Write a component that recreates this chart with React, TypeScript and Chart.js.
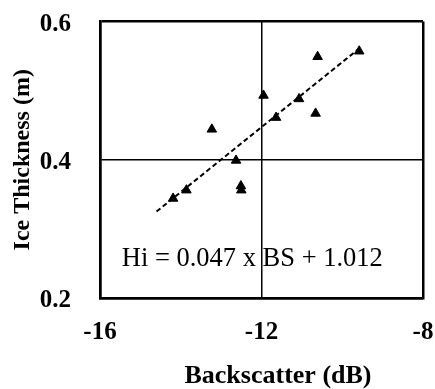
import React, { useEffect, useRef } from "react";
import { Chart, registerables } from "chart.js";

Chart.register(...registerables);

const backscatter = [-9.58, -10.61, -11.95, -11.07, -10.66, -11.64, -13.23, -12.63, -12.51, -12.5, -14.19, -13.86];
const thickness = [0.557, 0.549, 0.493, 0.488, 0.467, 0.461, 0.444, 0.399, 0.362, 0.356, 0.344, 0.356];
const trendX = [-14.6, -9.6];
const trendY = [0.325, 0.56];
const xTicks = [-16, -12, -8];
const yTicks = [0.2, 0.4, 0.6];
const equationText = "Hi = 0.047 x BS + 1.012";
const xTitle = "Backscatter (dB)";
const yTitle = "Ice Thickness (m)";

const SERIF = '"Liberation Serif", "Times New Roman", serif';

const overlayPlugin = {
  id: "overlayText",
  afterDraw(chart: any) {
    const { ctx, scales } = chart;
    const x = scales.x;
    const y = scales.y;
    ctx.save();
    ctx.fillStyle = "#000";
    ctx.font = `26.5px ${SERIF}`;
    ctx.textAlign = "left";
    ctx.textBaseline = "alphabetic";
    ctx.fillText(equationText, x.getPixelForValue(-15.46), y.getPixelForValue(0.246));
    ctx.font = `bold 26px ${SERIF}`;
    ctx.textAlign = "center";
    ctx.textBaseline = "middle";
    ctx.fillText(xTitle, 278, 376);
    ctx.restore();
  },
};

const zeroPad = (s: any) => {
  s.paddingTop = 0;
  s.paddingBottom = 0;
  s.paddingLeft = 0;
  s.paddingRight = 0;
};

export default function App() {
  const ref = useRef<HTMLCanvasElement | null>(null);
  useEffect(() => {
    if (!ref.current) return;
    const chart = new Chart(ref.current, {
      type: "scatter",
      data: {
        datasets: [
          {
            type: "line",
            data: trendX.map((v, i) => ({ x: v, y: trendY[i] })),
            borderColor: "#000",
            borderWidth: 2,
            borderDash: [5, 3],
            pointRadius: 0,
            fill: false,
          },
          {
            data: backscatter.map((v, i) => ({ x: v, y: thickness[i] })),
            pointStyle: "triangle",
            pointRadius: 5.5,
            backgroundColor: "#000",
            borderColor: "#000",
            borderWidth: 1,
          },
        ],
      },
      options: {
        animation: false,
        responsive: true,
        maintainAspectRatio: false,
        layout: { padding: { top: 21.5, right: 12, left: 0, bottom: 0 } },
        plugins: { legend: { display: false }, tooltip: { enabled: false } },
        scales: {
          x: {
            type: "linear",
            min: -16,
            max: -8,
            afterFit: (s: any) => { s.height = 91; zeroPad(s); },
            afterBuildTicks: (s: any) => { s.ticks = xTicks.map((v) => ({ value: v })); },
            ticks: {
              font: { family: SERIF, size: 25, weight: "bold" },
              color: "#000",
              padding: 20,
              maxRotation: 0,
            },
            grid: {
              color: "#000",
              lineWidth: (c: any) => (c.index === 1 ? 1.5 : 2.5),
              drawTicks: false,
            },
            border: { color: "#000", width: 2.5 },
            title: { display: false },
          },
          y: {
            type: "linear",
            min: 0.2,
            max: 0.6,
            afterFit: (s: any) => { s.width = 100; zeroPad(s); },
            afterBuildTicks: (s: any) => { s.ticks = yTicks.map((v) => ({ value: v })); },
            ticks: {
              font: { family: SERIF, size: 25, weight: "bold" },
              color: "#000",
              padding: 29,
              labelOffset: 3,
              callback: (v: any) => Number(v).toFixed(1),
            },
            grid: {
              color: "#000",
              lineWidth: (c: any) => (c.index === 1 ? 1.5 : 2.5),
              drawTicks: false,
            },
            border: { color: "#000", width: 2.5 },
            title: {
              display: true,
              text: yTitle,
              color: "#000",
              font: { family: SERIF, size: 24, weight: "bold", lineHeight: 1.2 },
              padding: { top: 8, bottom: 0 },
            },
          },
        },
      },
      plugins: [overlayPlugin],
    });
    return () => chart.destroy();
  }, []);
  return (
    <div style={{ position: "fixed", left: 0, top: 0, width: 435, height: 389, background: "#fff" }}>
      <canvas ref={ref} />
    </div>
  );
}
